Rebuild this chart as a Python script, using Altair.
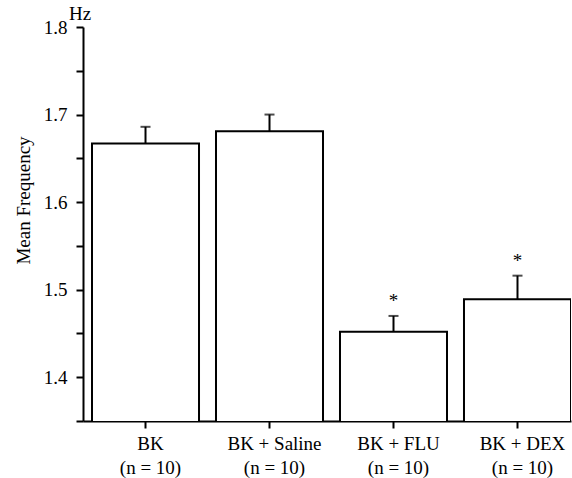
import altair as alt
import pandas as pd

groups = ["BK", "BK + Saline", "BK + FLU", "BK + DEX"]
ns = [10, 10, 10, 10]
means = [1.667, 1.681, 1.452, 1.489]
sems = [0.019, 0.019, 0.018, 0.027]
sig = ["", "", "*", "*"]
y_ticks = [1.35, 1.4, 1.45, 1.5, 1.55, 1.6, 1.65, 1.7, 1.75, 1.8]
unit = ["Hz"]

FONT = "Liberation Serif"

df = pd.DataFrame({
    "group": groups,
    "label": [f"{g}\n(n = {n})" for g, n in zip(groups, ns)],
    "mean": means,
    "top": [m + s for m, s in zip(means, sems)],
    "sig": sig,
})
order = list(df["label"])

xscale = alt.Scale(paddingInner=0.137, paddingOuter=0.0363, align=1)
yscale = alt.Scale(domain=[1.35, 1.8], nice=False, zero=False)

xaxis = alt.Axis(
    title=None, labelAngle=0, labelFont=FONT, labelFontSize=19, labelColor="black",
    labelExpr="split(datum.label, '\\n')", labelLineHeight=24, labelBaseline="top",
    labelPadding=6, tickSize=7, tickWidth=2, tickColor="black",
    domainWidth=2, domainColor="black", labelOffset=5,
)
yaxis = alt.Axis(
    title="Mean Frequency", titleFont=FONT, titleFontSize=19, titleFontWeight="normal",
    titleColor="black", titleX=-60, titleY=173, titleBaseline="middle", titleAlign="center",
    values=y_ticks,
    labelExpr="abs(datum.value*10 - round(datum.value*10)) < 0.001 ? format(datum.value, '.1f') : ''",
    labelFont=FONT, labelFontSize=19, labelColor="black", labelPadding=9,
    tickSize=7, tickWidth=2, tickColor="black", domainWidth=2, domainColor="black",
    grid=False,
)

base = alt.Chart(df)
X = alt.X("label:N", sort=order, scale=xscale, axis=xaxis)

bars = base.mark_bar(fill="white", stroke="black", strokeWidth=2, clip=True).encode(
    x=X,
    y=alt.Y("mean:Q", scale=yscale, axis=yaxis),
)

err = base.mark_rule(color="black", strokeWidth=2).encode(
    x=X,
    y=alt.Y("mean:Q", scale=yscale, axis=yaxis),
    y2="top:Q",
)

caps = base.mark_tick(color="black", size=10, thickness=2).encode(
    x=X,
    y=alt.Y("top:Q", scale=yscale, axis=yaxis),
)

stars = base.mark_text(font=FONT, fontSize=19, color="black", dy=-9, baseline="alphabetic").encode(
    x=X,
    y=alt.Y("top:Q", scale=yscale, axis=yaxis),
    text="sig:N",
)

hz = alt.Chart(pd.DataFrame({"unit": unit})).mark_text(
    font=FONT, fontSize=19, color="black", align="center", baseline="middle"
).encode(
    x=alt.value(-3), y=alt.value(-13), text="unit:N"
)

chart = alt.layer(bars, err, caps, stars, hz).properties(
    width=488, height=394,
    padding={"left": 83, "top": 27, "right": 1, "bottom": 57},
    autosize=alt.AutoSizeParams(type="none"),
    background="white",
).configure_view(stroke=None)

chart.save("out.html", embed_options={"renderer": "svg", "actions": False})
